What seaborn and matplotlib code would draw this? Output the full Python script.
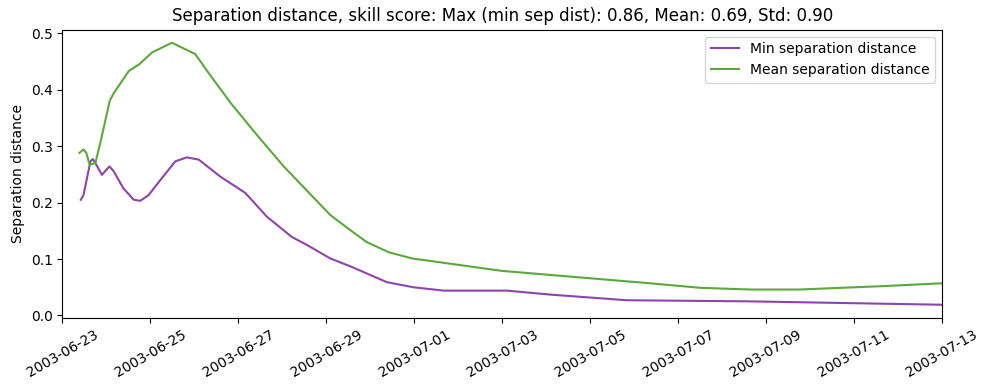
import pandas as pd
import seaborn as sns
import matplotlib
matplotlib.use("Agg")
import matplotlib.pyplot as plt
import matplotlib.dates as mdates

# Min separation distance
min_times = [
    "2003-06-23 10:05", "2003-06-23 11:30", "2003-06-23 15:20", "2003-06-23 16:35",
    "2003-06-23 18:00", "2003-06-23 21:35", "2003-06-24 01:40", "2003-06-24 04:05",
    "2003-06-24 09:20", "2003-06-24 14:55", "2003-06-24 18:30", "2003-06-24 23:00",
    "2003-06-25 05:30", "2003-06-25 13:40", "2003-06-25 19:55", "2003-06-26 02:25",
    "2003-06-26 14:10", "2003-06-27 03:50", "2003-06-27 15:35", "2003-06-28 05:15",
    "2003-06-28 13:25", "2003-06-29 02:10", "2003-06-29 13:10", "2003-06-30 09:05",
    "2003-06-30 23:30", "2003-07-01 16:05", "2003-07-03 02:40", "2003-07-04 02:10",
    "2003-07-05 19:55", "2003-07-08 15:20", "2003-07-13 00:00",
]
min_sep = [
    0.205, 0.213, 0.273, 0.277, 0.270, 0.249, 0.264, 0.255,
    0.225, 0.205, 0.203, 0.213, 0.240, 0.273, 0.280, 0.276,
    0.246, 0.217, 0.175, 0.139, 0.125, 0.101, 0.087, 0.059,
    0.050, 0.044, 0.044, 0.037, 0.027, 0.025, 0.019,
]

# Mean separation distance
mean_times = [
    "2003-06-23 09:20", "2003-06-23 11:30", "2003-06-23 13:05", "2003-06-23 14:50",
    "2003-06-23 18:00", "2003-06-23 20:40", "2003-06-24 01:50", "2003-06-24 04:05",
    "2003-06-24 12:15", "2003-06-24 18:00", "2003-06-25 01:00", "2003-06-25 11:45",
    "2003-06-26 00:30", "2003-06-26 07:00", "2003-06-26 19:40", "2003-06-27 10:05",
    "2003-06-28 00:45", "2003-06-28 04:20", "2003-06-29 02:10", "2003-06-29 13:10",
    "2003-06-29 22:05", "2003-06-30 10:05", "2003-06-30 22:50", "2003-07-02 23:45",
    "2003-07-06 08:40", "2003-07-07 12:00", "2003-07-08 15:20", "2003-07-09 18:30",
    "2003-07-11 15:50", "2003-07-13 00:00",
]
mean_sep = [
    0.288, 0.294, 0.288, 0.267, 0.270, 0.305, 0.380, 0.394,
    0.433, 0.445, 0.466, 0.483, 0.463, 0.433, 0.377, 0.320,
    0.264, 0.252, 0.178, 0.151, 0.130, 0.112, 0.101, 0.079,
    0.057, 0.049, 0.046, 0.046, 0.052, 0.057,
]

df = pd.concat([
    pd.DataFrame({"time": pd.to_datetime(min_times), "value": min_sep,
                  "series": "Min separation distance"}),
    pd.DataFrame({"time": pd.to_datetime(mean_times), "value": mean_sep,
                  "series": "Mean separation distance"}),
])

palette = {"Min separation distance": "#8e44ad", "Mean separation distance": "#5ba83c"}

fig, ax = plt.subplots(figsize=(9.9, 3.9), dpi=100)
sns.lineplot(data=df, x="time", y="value", hue="series", palette=palette, ax=ax, linewidth=1.5)

ax.set_xlim(pd.Timestamp("2003-06-23"), pd.Timestamp("2003-07-13"))
ax.xaxis.set_major_locator(mdates.DayLocator(bymonthday=range(1, 32, 2)))
ax.xaxis.set_major_formatter(mdates.DateFormatter("%Y-%m-%d"))
plt.xticks(rotation=30)

handles, labels = ax.get_legend_handles_labels()
ax.legend(handles, labels, loc="upper right")

ax.set_title("Separation distance, skill score: Max (min sep dist): 0.86, Mean: 0.69, Std: 0.90")
ax.set_xlabel("")
ax.set_ylabel("Separation distance")
fig.subplots_adjust(left=0.063, right=0.9515, top=0.924, bottom=0.185)
plt.savefig("out.png")
